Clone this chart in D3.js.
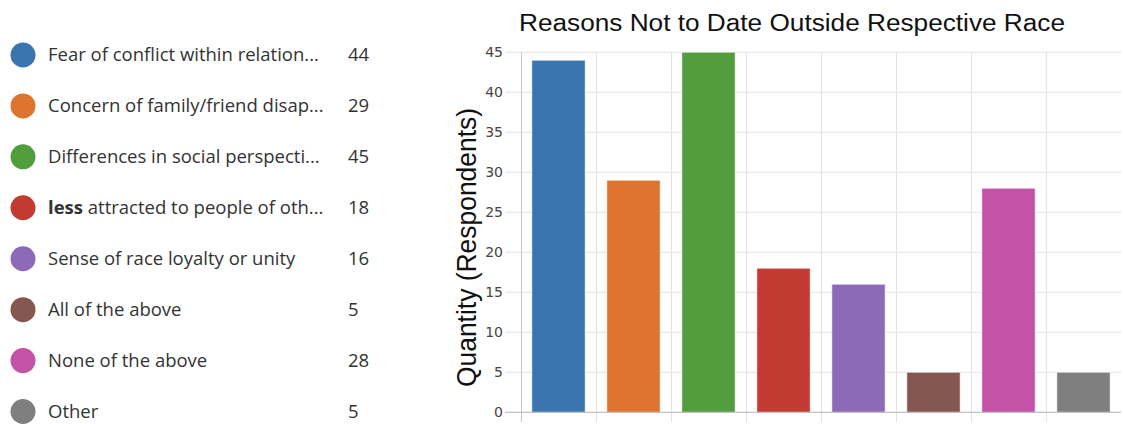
<!DOCTYPE html>
<html><head><meta charset="utf-8">
<script src="https://cdn.jsdelivr.net/npm/d3@7"></script>
<style>
html,body{margin:0;padding:0;background:#fff;}
svg{display:block;}
</style></head>
<body>
<svg id="c" width="1123" height="424"></svg>
<script>
const categories = ["Fear of conflict within relation...","Concern of family/friend disap...","Differences in social perspecti...","less attracted to people of oth...","Sense of race loyalty or unity","All of the above","None of the above","Other"];
const values = [44,29,45,18,16,5,28,5];
const colors = ["#3a75b0","#dd7430","#529e3e","#c33a32","#8d6ab8","#84584e","#c452a6","#7f7f7f"];
const yTicks = [0,5,10,15,20,25,30,35,40,45];
const title = "Reasons Not to Date Outside Respective Race";
const yLabel = "Quantity (Respondents)";

const svg = d3.select("#c");

// Legend
const leg = svg.append("g");
const ly = d3.scalePoint().domain(d3.range(categories.length)).range([55, 411.5]);
categories.forEach((c,i)=>{
  const g = leg.append("g").attr("transform",`translate(0,${ly(i)})`);
  g.append("circle").attr("cx",23).attr("cy",0).attr("r",12.5).attr("fill",colors[i]);
  const t = g.append("text").attr("x",48).attr("y",0).attr("dy","0.35em")
    .attr("font-family","Open Sans").attr("font-size",18.5).attr("fill","#333");
  if (c.startsWith("less")) {
    t.append("tspan").attr("font-weight","bold").text("less");
    t.append("tspan").text(c.slice(4));
  } else t.text(c);
  g.append("text").attr("x",348).attr("y",0).attr("dy","0.35em")
    .attr("font-family","Open Sans").attr("font-size",18.5).attr("fill","#333").text(values[i]);
});

// Chart
const x = d3.scaleBand().domain(d3.range(categories.length)).range([521,1121]).paddingInner(0.29).paddingOuter(0.145);
const xb = d3.scaleBand().domain(d3.range(categories.length)).range([521,1121]);
const y = d3.scaleLinear().domain([0,45]).range([412.3,52.3]);

// horizontal grid
svg.append("g").selectAll("line").data(yTicks).join("line")
  .attr("x1",505).attr("x2",1121).attr("y1",d=>y(d)).attr("y2",d=>y(d))
  .attr("stroke","#e3e3e3").attr("stroke-width",1);
// vertical grid
svg.append("g").selectAll("line").data(d3.range(categories.length)).join("line")
  .attr("x1",d=>xb(d)+0.5).attr("x2",d=>xb(d)+0.5).attr("y1",y(45)).attr("y2",422)
  .attr("stroke",d=>d===0?"#c8c8c8":"#e3e3e3").attr("stroke-width",1);

// bars
svg.append("g").selectAll("rect").data(values).join("rect")
  .attr("x",(d,i)=>x(i)).attr("width",x.bandwidth())
  .attr("y",d=>y(d)).attr("height",d=>y(0)-y(d))
  .attr("fill",(d,i)=>colors[i]).attr("stroke","rgba(255,255,255,0.5)").attr("stroke-width",1);

// baseline
svg.append("line").attr("x1",505).attr("x2",1121).attr("y1",y(0)).attr("y2",y(0)).attr("stroke","#bbb");

// y tick labels
svg.append("g").selectAll("text").data(yTicks).join("text")
  .attr("x",503).attr("y",d=>y(d)).attr("dy","0.35em").attr("text-anchor","end")
  .attr("font-family","DejaVu Sans").attr("font-size",14).attr("fill","#444").text(d=>d);

// title
svg.append("text").attr("x",792).attr("y",31).attr("text-anchor","middle")
  .attr("font-family","Liberation Sans").attr("font-size",23).attr("fill","#111")
  .attr("textLength",546).attr("lengthAdjust","spacingAndGlyphs").text(title);

// y label
svg.append("text").attr("transform",`translate(476,247.5) rotate(-90)`).attr("text-anchor","middle")
  .attr("font-family","Liberation Sans").attr("font-size",27).attr("fill","#111")
  .attr("textLength",279).attr("lengthAdjust","spacingAndGlyphs").text(yLabel);
</script>
</body></html>
